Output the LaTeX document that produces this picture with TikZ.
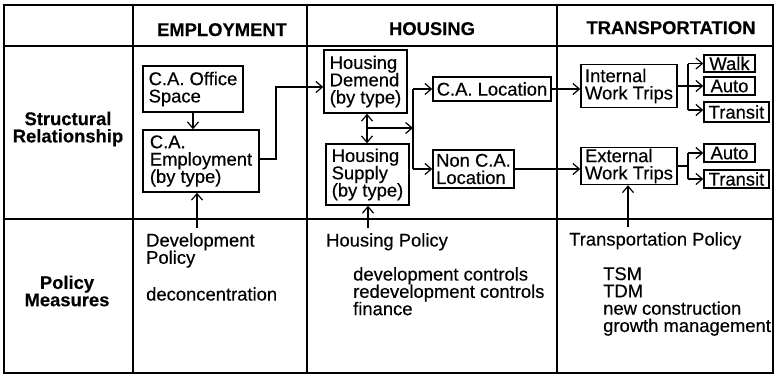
\documentclass[tikz,border=0pt]{standalone}
\usepackage{fontspec}
\setmainfont{Liberation Sans}[FakeBold=0.35]
\usetikzlibrary{arrows.meta}
\setlength{\lineskiplimit}{-30pt}
\begin{document}
\begin{tikzpicture}[x=1bp,y=-1bp,
  txt/.style={font=\fontsize{18.4bp}{17.3bp}\selectfont, inner sep=0pt, align=left},
  hdr/.style={font=\fontsize{18.4bp}{17.3bp}\selectfont\bfseries, inner sep=0pt, align=center},
  box/.style={draw, line width=1.4bp, font=\fontsize{18.4bp}{17.3bp}\selectfont,
              align=left, inner sep=0pt},
  wire/.style={line width=1.2bp},
  arr/.style={wire, -{Straight Barb[length=6.5bp,width=11bp]}},
  dblarr/.style={wire, {Straight Barb[length=6.5bp,width=11bp]}-{Straight Barb[length=6.5bp,width=11bp]}},
  grid/.style={line width=1.5bp}]
\useasboundingbox (0,0) rectangle (778,376);

% table frame
\draw[grid] (4,5) rectangle (773,373);
\draw[grid] (133,5) -- (133,373);
\draw[grid] (307,5) -- (307,373);
\draw[grid] (557,5) -- (557,373);
\draw[grid] (4,46) -- (773,46);
\draw[grid] (4,219) -- (773,219);

% column and row headings
\node[hdr, anchor=base] (hemp) at (222,36) {EMPLOYMENT};
\node[hdr, anchor=base] (hhou) at (432,35) {HOUSING};
\node[hdr, anchor=base] (htra) at (671,34) {TRANSPORTATION};
\node[hdr] (rstruct) at (68,129) {Structural\\Relationship};
\node[hdr] (rpolicy) at (67,291) {Policy\\Measures};

% employment
\node[box, minimum width=100bp, minimum height=46bp] (off) at (193,89) {C.A. Office\\Space};
\node[box, minimum width=116bp, minimum height=62bp] (emp) at (201,161) {C.A.\\Employment\\(by type)};

% housing
\node[box, minimum width=83bp, minimum height=63bp] (dem) at (365.5,81.5) {Housing\\Demend\\(by type)};
\node[box, minimum width=83bp, minimum height=61bp] (sup) at (367.5,174.5) {Housing\\Supply\\(by type)};
\node[box, minimum width=118bp, minimum height=24bp] (loc) at (492,89) {C.A. Location};
\node[box, minimum width=81bp, minimum height=38bp] (nloc) at (473.5,169) {Non C.A.\\Location};

% transportation
\node[box, minimum width=96bp, minimum height=43bp] (itr) at (629,86) {Internal\\Work Trips};
\node[box, minimum width=96bp, minimum height=37bp] (etr) at (629,166) {External\\Work Trips};
\node[box, minimum width=51bp, minimum height=17bp] (walk) at (729.5,63.5) {Walk};
\node[box, minimum width=51bp, minimum height=18bp] (autoi) at (729.5,86) {Auto};
\node[box, minimum width=65bp, minimum height=20bp] (trani) at (736.5,112) {Transit};
\node[box, minimum width=51bp, minimum height=18bp] (autoe) at (729.5,153) {Auto};
\node[box, minimum width=65bp, minimum height=18bp] (trane) at (736.5,179) {Transit};

% policy texts
\node[txt, anchor=north west] (devpol) at (146,233) {Development\\Policy};
\node[txt, anchor=north west] (decon) at (146,287) {deconcentration};
\node[txt, anchor=north west] (houpol) at (326,233) {Housing Policy};
\node[txt, anchor=north west] (houlist) at (353,267) {development controls\\redevelopment controls\\finance};
\node[txt, anchor=north west] (trapol) at (569,232) {Transportation Policy};
\node[txt, anchor=north west] (tralist) at (603,267) {TSM\\TDM\\new construction\\growth management};

% employment connectors
\draw[arr] (off.south) -- (off.south |- emp.north);
\coordinate (empbend) at (276,159);
\draw[arr] (emp.east |- empbend) -- (empbend) |- (dem.west |- 0,87);

% housing connectors
\draw[dblarr] (dem.south -| 367,0) -- (sup.north -| 367,0);
\coordinate (hdsv) at (367,128);
\coordinate (hsplit) at (413,128);
\draw[arr] (hdsv) -- (hsplit);
\draw[wire] (hsplit |- loc.west) -- (hsplit |- nloc.west);
\draw[arr] (hsplit |- loc.west) -- (loc.west);
\draw[arr] (hsplit |- nloc.west) -- (nloc.west);
\draw[arr] (loc.east) -- (loc.east -| itr.west);
\draw[arr] (nloc.east) -- (nloc.east -| etr.west);

% mode split, internal trips
\coordinate (ifan) at (688,86);
\draw[wire] (itr.east) -- (ifan);
\draw[wire] (ifan |- walk.west) -- (ifan |- 0,110);
\draw[arr] (ifan |- walk.west) -- (walk.west);
\draw[arr] (ifan |- autoi.west) -- (autoi.west);
\draw[arr] (ifan |- 0,110) -- (trani.west |- 0,110);

% mode split, external trips
\coordinate (efan) at (688,166);
\draw[wire] (etr.east) -- (efan);
\draw[wire] (efan |- autoe.west) -- (efan |- trane.west);
\draw[arr] (efan |- autoe.west) -- (autoe.west);
\draw[arr] (efan |- trane.west) -- (trane.west);

% policy arrows
\coordinate (devtail) at (197,228);
\draw[arr] (devtail) -- (devtail |- emp.south);
\coordinate (houtail) at (368,228);
\draw[arr] (houtail) -- (houtail |- sup.south);
\coordinate (tratail) at (628,227);
\draw[arr] (tratail) -- (tratail |- etr.south);
\end{tikzpicture}
\end{document}
